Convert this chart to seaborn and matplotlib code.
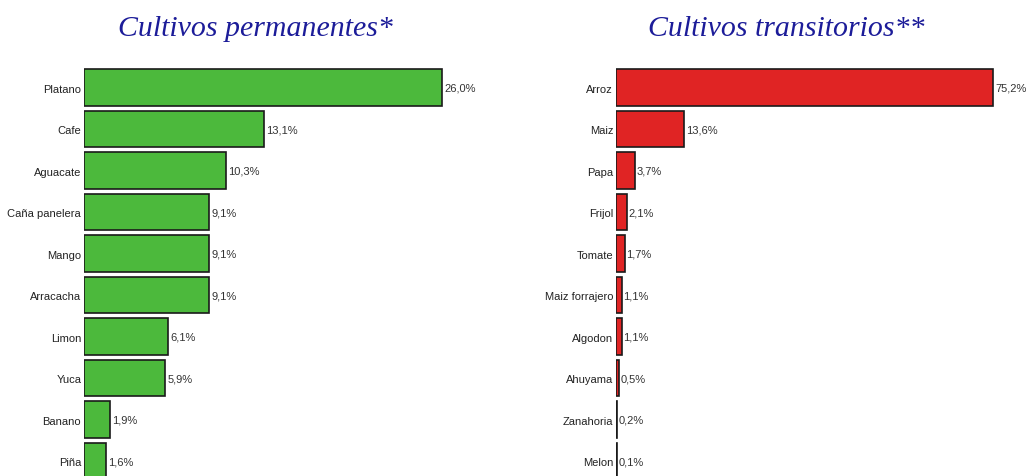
import matplotlib
matplotlib.use("Agg")
from matplotlib import pyplot as plt
import pandas as pd
import seaborn as sns

# data
perm_crops = ["Platano", "Cafe", "Aguacate", "Caña panelera", "Mango",
              "Arracacha", "Limon", "Yuca", "Banano", "Piña"]
perm_pct = [26.0, 13.1, 10.3, 9.1, 9.1, 9.1, 6.1, 5.9, 1.9, 1.6]

trans_crops = ["Arroz", "Maiz", "Papa", "Frijol", "Tomate",
               "Maiz forrajero", "Algodon", "Ahuyama", "Zanahoria", "Melon"]
trans_pct = [75.2, 13.6, 3.7, 2.1, 1.7, 1.1, 1.1, 0.5, 0.2, 0.1]

sns.set_style("white")
plt.rcParams['font.family'] = ['Liberation Sans Narrow', 'Liberation Sans', 'DejaVu Sans']

fig = plt.figure(figsize=(10.27, 4.77), dpi=100)

W, H = 1027, 477
top = 1 - 68 / H


def panel(left_px, width_px, px_per_unit, crops, pct, color, title, title_x):
    ax = fig.add_axes([left_px / W, 0, width_px / W, top])
    df = pd.DataFrame({'crop': crops, 'pct': pct})
    sns.barplot(data=df, x='pct', y='crop', orient='h', color=color,
                saturation=1, width=0.88, edgecolor='#1a1a1a', linewidth=1.2,
                ax=ax)
    ax.set_xlim(0, width_px / px_per_unit)
    ax.set_ylim(9.36, -0.5)
    gap = 2 / px_per_unit
    for i, v in enumerate(pct):
        ax.text(v + gap, i, f"{v:.1f}%".replace('.', ','), va='center', ha='left',
                fontsize=8, color='#333333')
    ax.set_xlabel('')
    ax.set_ylabel('')
    ax.set_xticks([])
    ax.tick_params(axis='y', length=0, pad=2, labelsize=8, labelcolor='#222222')
    sns.despine(ax=ax, left=True, bottom=True)
    fig.text(title_x / W, 1 - 29 / H, title, ha='center', va='center',
             fontsize=21.5, style='italic', family='Liberation Serif',
             color='#1c1c99')


panel(84, 430, 358 / 26.0, perm_crops, perm_pct, '#4cb93c',
      'Cultivos permanentes*', 255)
panel(616, 380, 377 / 75.2, trans_crops, trans_pct, '#e02424',
      'Cultivos transitorios**', 786)

fig.savefig('out.png', dpi=100)
